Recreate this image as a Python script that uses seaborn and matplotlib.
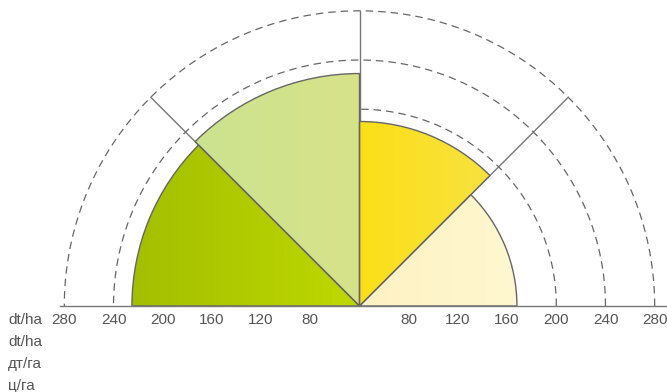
import numpy as np
import matplotlib
matplotlib.use("Agg")
import matplotlib.pyplot as plt
from matplotlib.patches import Wedge
from matplotlib.colors import LinearSegmentedColormap
import seaborn as sns

# yields per sector, sectors go from the left (180 deg) to the right (0 deg)
values = [225, 229, 190, 168]
sector_start = [135, 90, 45, 0]      # degrees
sector_width = 45
color_left = ["#a3bf00", "#cce28f", "#fbdf18", "#fff2c4"]
color_right = ["#bed800", "#d7e38a", "#f8e240", "#fef7cf"]

tick_values = [80, 120, 160, 200, 240, 280]
grid_values = [200, 240, 280]
spoke_angles = [45, 90, 135]
unit_labels = ["dt/ha", "dt/ha", "дт/га", "ц/га"]

r0 = 40  # value at the centre
px = 1.23  # pixels per unit

sns.set_theme(style="white")
plt.rcParams["font.family"] = ["Liberation Sans", "DejaVu Sans"]

fig = plt.figure(figsize=(6.67, 3.92), dpi=100)
ax = fig.add_axes([60 / 667, 86 / 392, 607 / 667, 306 / 392])

# dashed rings and spokes behind the wedges
t = np.linspace(0, np.pi, 400)
for g in grid_values:
    ax.plot((g - r0) * np.cos(t), (g - r0) * np.sin(t), color="#666666",
            lw=0.9, dashes=(6, 4), zorder=1)
for a in spoke_angles:
    rr = grid_values[-1] - r0
    ax.plot([0, rr * np.cos(np.radians(a))], [0, rr * np.sin(np.radians(a))],
            color="#777777", lw=1, zorder=1)

grad = np.linspace(0, 1, 256)[None, :]
for v, s, c1, c2 in zip(values, sector_start, color_left, color_right):
    r = v - r0
    w = Wedge((0, 0), r, s, s + sector_width, facecolor="none",
              edgecolor="#666666", lw=1, zorder=3)
    ax.add_patch(w)
    xs = [0, r * np.cos(np.radians(s)), r * np.cos(np.radians(s + sector_width))]
    cmap = LinearSegmentedColormap.from_list("g", [c1, c2])
    im = ax.imshow(grad, extent=[min(xs), max(xs), 0, r], cmap=cmap,
                   aspect="auto", zorder=2, interpolation="bilinear")
    im.set_clip_path(w)

ax.set_xlim((60 - 359.5) / px, (667 - 359.5) / px)
ax.set_ylim(0, 306 / px)

pos = [-(v - r0) for v in tick_values] + [v - r0 for v in tick_values]
labs = [str(v) for v in tick_values] * 2
ax.set_xticks(pos)
ax.set_xticklabels(labs)
ax.set_yticks([])
ax.tick_params(axis="x", length=0, pad=5, labelsize=11, labelcolor="#555555")
for sp in ["top", "left", "right"]:
    ax.spines[sp].set_visible(False)
ax.spines["bottom"].set_color("#777777")
ax.spines["bottom"].set_linewidth(1)
ax.spines["bottom"].set_zorder(4)

for i, lab in enumerate(unit_labels):
    fig.text(8 / 667, 1 - (320 + i * 22) / 392, lab, ha="left", va="center",
             fontsize=11, color="#555555")

fig.savefig("out.png", dpi=100)
